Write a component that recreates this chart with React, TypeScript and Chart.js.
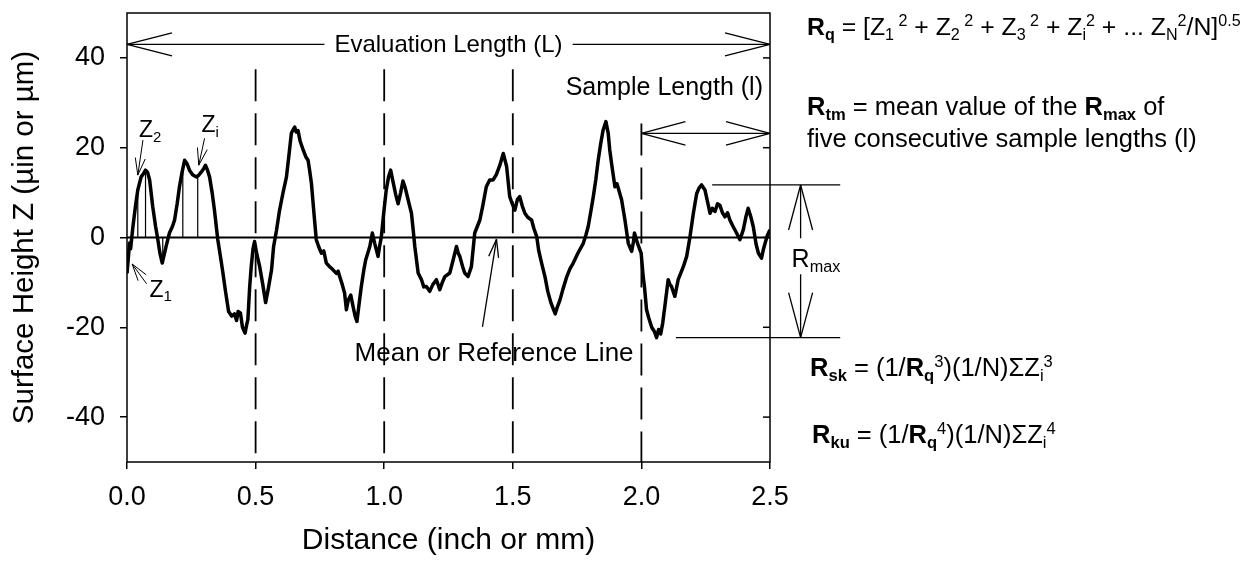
import React, { useEffect, useRef } from "react";
import { Chart, registerables } from "chart.js";

Chart.register(...registerables);

const FAMILY = '"Liberation Sans", Arial, Helvetica, sans-serif';

// Profile: distance along the surface (inch or mm) and surface height Z
const distance = [
  0.000, 0.006, 0.010, 0.014, 0.023, 0.033, 0.042, 0.055, 0.064, 0.072,
  0.080, 0.088, 0.100, 0.111, 0.120, 0.128, 0.137, 0.144, 0.152, 0.165,
  0.177, 0.185, 0.195, 0.204, 0.214, 0.224, 0.233, 0.243, 0.255, 0.269,
  0.278, 0.289, 0.298, 0.305, 0.313, 0.321, 0.331, 0.340, 0.353, 0.364,
  0.373, 0.383, 0.395, 0.407, 0.418, 0.426, 0.432, 0.441, 0.449, 0.459,
  0.465, 0.470, 0.477, 0.483, 0.490, 0.496, 0.504, 0.516, 0.528, 0.539,
  0.549, 0.562, 0.570, 0.581, 0.593, 0.606, 0.620, 0.629, 0.639, 0.646,
  0.652, 0.658, 0.665, 0.673, 0.685, 0.695, 0.704, 0.710, 0.717, 0.726,
  0.736, 0.745, 0.756, 0.765, 0.775, 0.788, 0.801, 0.814, 0.821, 0.827,
  0.837, 0.846, 0.853, 0.860, 0.870, 0.879, 0.887, 0.894, 0.903, 0.911,
  0.920, 0.928, 0.936, 0.944, 0.954, 0.963, 0.976, 0.982, 0.989, 0.998,
  1.008, 1.017, 1.025, 1.034, 1.045, 1.054, 1.064, 1.073, 1.082, 1.093,
  1.099, 1.106, 1.113, 1.119, 1.132, 1.145, 1.154, 1.164, 1.177, 1.189,
  1.203, 1.216, 1.226, 1.236, 1.255, 1.268, 1.281, 1.288, 1.294, 1.305,
  1.313, 1.326, 1.339, 1.352, 1.372, 1.383, 1.397, 1.410, 1.423, 1.436,
  1.449, 1.463, 1.476, 1.488, 1.498, 1.508, 1.518, 1.527, 1.537, 1.547,
  1.558, 1.573, 1.582, 1.593, 1.601, 1.612, 1.625, 1.636, 1.648, 1.658,
  1.665, 1.673, 1.683, 1.695, 1.710, 1.722, 1.735, 1.753, 1.774, 1.784,
  1.793, 1.804, 1.813, 1.823, 1.832, 1.842, 1.851, 1.862, 1.871, 1.877,
  1.884, 1.897, 1.905, 1.914, 1.923, 1.936, 1.949, 1.962, 1.969, 1.973,
  1.986, 1.999, 2.007, 2.012, 2.020, 2.029, 2.040, 2.051, 2.059, 2.067,
  2.075, 2.083, 2.091, 2.104, 2.111, 2.117, 2.130, 2.143, 2.163, 2.176,
  2.189, 2.202, 2.215, 2.224, 2.234, 2.247, 2.257, 2.267, 2.276, 2.286,
  2.296, 2.305, 2.315, 2.325, 2.335, 2.344, 2.356, 2.370, 2.383, 2.396,
  2.406, 2.415, 2.426, 2.435, 2.446, 2.455, 2.467, 2.475, 2.481, 2.490,
  2.500,
];
const height = [
  -8, -4, -1.2, -2.5, 2.4, 7, 10.6, 13.5, 14.2, 15.0,
  14.5, 12.8, 6.9, 2.5, -0.5, -3.5, -5.7, -4, -2, 1,
  2.5, 3.9, 7.5, 11.3, 14.5, 17.2, 16.5, 15, 14, 13.5,
  13.8, 14.6, 15.3, 16.1, 15, 13.5, 10, 6.1, -0.5, -4.5,
  -7.9, -12, -16.5, -17.5, -17, -18.5, -16.5, -16.8, -20, -21.3,
  -19.5, -18.3, -11, -6.5, -2.5, -0.9, -3.5, -6.5, -10.5, -14.5,
  -11.5, -7.2, -2, 1.5, 6, 9.8, 13.5, 18, 23.2, 24,
  24.6, 23.5, 23.8, 21.5, 19.5, 18, 17.2, 15, 12.1, 6,
  -0.5, -2, -3.5, -3, -5.7, -6.5, -7.2, -8, -7.5, -8.7,
  -10.5, -12.4, -16.1, -14, -12.8, -15.4, -17.5, -18.7, -14.5, -10.9,
  -7.5, -5, -3.5, -2, 1, -1.3, -4.2, -2, 0.2, 5.4,
  10.6, 13.5, 15, 12.5, 9.5, 7.5, 10, 12.6, 11, 8.4,
  7, 5.4, 1.5, -2, -7.9, -9.4, -11, -10.9, -12, -10.5,
  -9.4, -11.6, -10, -8.7, -7.9, -5, -2, -3.5, -4.2, -6.5,
  -7.9, -8.7, -6.5, 1, 3.9, 7, 11.3, 12.8, 12.8, 14,
  16, 18.7, 15.8, 9.1, 7.5, 6.1, 8.5, 9.1, 7, 5.4,
  4.5, 3.9, 2, 0.2, -3, -5.7, -8.7, -12, -14.5, -16,
  -17, -15.5, -14, -11.5, -8.7, -7, -5.7, -3.5, -1.3, 0.5,
  2.4, 6, 9.1, 13, 17.2, 21, 23.9, 25.8, 23.2, 19.5,
  16.5, 11.3, 12, 10.2, 8.4, 3.9, -1.3, -3.1, -1, 1,
  -1.5, -3.5, -8.7, -11, -16.1, -18, -20, -21, -22.3, -20.5,
  -21.5, -19, -15.4, -9.4, -10.5, -10.9, -13.1, -9.4, -6.5, -4.2,
  0.2, 5.4, 9.8, 11, 11.7, 10.6, 8, 5.4, 6.5, 5.8,
  7.5, 7.2, 5.5, 4.6, 5.5, 3.9, 2.5, 1, -0.5, 1.7,
  4.5, 6.5, 4.5, 2.4, -1.5, -3.5, -4.6, -2.5, -1.3, 0.5,
  1.7,
];

const xTickValues = [0, 0.5, 1.0, 1.5, 2.0, 2.5];
const yTickValues = [-40, -20, 0, 20, 40];

// Sample length boundaries (dashed lines) and their top ends
const sampleBounds = [0.5, 1.0, 1.5, 2.0];
const sampleBoundTop = [37.5, 37.5, 37.5, 25.4];

// Individual Z samples drawn as thin stems
const zSampleX = [0.042, 0.072, 0.139, 0.217, 0.275];
const zSampleZ = [11.5, 15.0, -4.0, 16.5, 13.6];

const evalArrowZ = 43;
const sampleArrowZ = 23.2;
const rMaxTop = 11.7;
const rMaxBottom = -22.3;

type Seg = { t: string; b?: boolean; sub?: boolean; sup?: boolean };

function seg(ctx: CanvasRenderingContext2D, x1: number, y1: number, x2: number, y2: number) {
  ctx.beginPath();
  ctx.moveTo(x1, y1);
  ctx.lineTo(x2, y2);
  ctx.stroke();
}

function head(ctx: CanvasRenderingContext2D, tx: number, ty: number, fx: number, fy: number, len: number, half: number) {
  const dx = fx - tx, dy = fy - ty;
  const L = Math.hypot(dx, dy) || 1;
  const ux = dx / L, uy = dy / L;
  const bx = tx + ux * len, by = ty + uy * len;
  seg(ctx, tx, ty, bx - uy * half, by + ux * half);
  seg(ctx, tx, ty, bx + uy * half, by - ux * half);
}

function rich(ctx: CanvasRenderingContext2D, x: number, y: number, segs: Seg[], size: number) {
  ctx.textBaseline = "alphabetic";
  ctx.textAlign = "left";
  for (const s of segs) {
    const small = s.sub || s.sup;
    const fs = small ? size * 0.65 : size;
    ctx.font = `${s.b ? "bold " : ""}${fs}px ${FAMILY}`;
    const dy = s.sub ? size * 0.2 : s.sup ? -size * 0.36 : 0;
    ctx.fillText(s.t, x, y + dy);
    x += ctx.measureText(s.t).width;
  }
  return x;
}

const annotPlugin = {
  id: "annot",
  afterDraw(chart: any) {
    const { ctx, chartArea: a, scales } = chart;
    const X = scales.x, Y = scales.y;
    const px = (v: number) => X.getPixelForValue(v);
    const py = (v: number) => Y.getPixelForValue(v);
    ctx.save();
    ctx.strokeStyle = "#000";
    ctx.fillStyle = "#000";
    ctx.lineCap = "butt";

    // frame
    ctx.lineWidth = 1.5;
    ctx.strokeRect(a.left, a.top, a.right - a.left, a.bottom - a.top);
    for (const v of yTickValues) {
      const yy = py(v);
      seg(ctx, a.right - 7, yy, a.right, yy);
    }

    ctx.lineWidth = 1.3;
    // Evaluation length arrow
    const ey = py(evalArrowZ);
    const cx = px(1.25);
    ctx.font = `24px ${FAMILY}`;
    const evalLabel = "Evaluation Length (L)";
    const w = ctx.measureText(evalLabel).width;
    seg(ctx, a.left, ey, cx - w / 2 - 10, ey);
    seg(ctx, cx + w / 2 + 10, ey, a.right, ey);
    head(ctx, a.left, ey, a.right, ey, 45, 11.5);
    head(ctx, a.right, ey, a.left, ey, 45, 11.5);
    ctx.textAlign = "center";
    ctx.textBaseline = "middle";
    ctx.fillText(evalLabel, cx, ey + 1);

    // Sample length arrow
    const sy = py(sampleArrowZ);
    const sx0 = px(2.0);
    seg(ctx, sx0, sy, a.right, sy);
    head(ctx, sx0, sy, a.right, sy, 44, 11.7);
    head(ctx, a.right, sy, sx0, sy, 44, 11.7);
    ctx.font = `25px ${FAMILY}`;
    ctx.textAlign = "right";
    ctx.textBaseline = "alphabetic";
    ctx.fillText("Sample Length (l)", a.right - 7, sy - 38);

    // Rmax
    const rt = py(rMaxTop), rb = py(rMaxBottom);
    seg(ctx, px(2.275), rt, px(2.773), rt);
    seg(ctx, px(2.134), rb, px(2.773), rb);
    const ax = px(2.619);
    const mid = (rt + rb) / 2;
    seg(ctx, ax, rt, ax, mid - 23);
    seg(ctx, ax, mid + 13, ax, rb);
    head(ctx, ax, rt, ax, rb, 45, 12);
    head(ctx, ax, rb, ax, rt, 45, 12);
    rich(ctx, ax - 9, mid + 6, [{ t: "R" }, { t: "max", sub: true }], 25);

    // Mean line arrow
    const mtx = px(1.4366), mty = py(-0.4);
    const mfx = px(1.382), mfy = py(-19.9);
    seg(ctx, mfx, mfy, mtx, mty);
    head(ctx, mtx, mty, mfx, mfy, 18, 5);
    ctx.font = `26px ${FAMILY}`;
    ctx.textAlign = "left";
    ctx.textBaseline = "alphabetic";
    ctx.fillText("Mean or Reference Line", px(0.885), py(-27.4));

    // Z arrows
    ctx.lineWidth = 1;
    const z2t = [px(0.042), py(13.9)], z2f = [px(0.062), py(21.7)];
    seg(ctx, z2f[0], z2f[1], z2t[0], z2t[1]);
    head(ctx, z2t[0], z2t[1], z2f[0], z2f[1], 17, 5);
    const zit = [px(0.279), py(16.1)], zif = [px(0.3016), py(22.1)];
    seg(ctx, zif[0], zif[1], zit[0], zit[1]);
    head(ctx, zit[0], zit[1], zif[0], zif[1], 17, 5);
    const z1t = [px(0.020), py(-5.9)], z1f = [px(0.076), py(-10.3)];
    seg(ctx, z1f[0], z1f[1], z1t[0], z1t[1]);
    head(ctx, z1t[0], z1t[1], z1f[0], z1f[1], 17, 5);
    rich(ctx, z2f[0] - 4, z2f[1] - 3, [{ t: "Z" }, { t: "2", sub: true }], 23);
    rich(ctx, zif[0] - 3, zif[1] - 6, [{ t: "Z" }, { t: "i", sub: true }], 23);
    rich(ctx, z1f[0] + 3, z1f[1] + 13, [{ t: "Z" }, { t: "1", sub: true }], 23);

    // Formulas on the right
    const fs = 25.5;
    const fx = 807;
    rich(ctx, fx, 35, [
      { t: "R", b: true }, { t: "q", b: true, sub: true }, { t: " = [Z" },
      { t: "1", sub: true }, { t: " 2", sup: true }, { t: " + Z" },
      { t: "2", sub: true }, { t: " 2", sup: true }, { t: " + Z" },
      { t: "3", sub: true }, { t: " 2", sup: true }, { t: " + Z" },
      { t: "i", sub: true }, { t: "2", sup: true }, { t: " + ... Z" },
      { t: "N", sub: true }, { t: "2", sup: true }, { t: "/N]" },
      { t: "0.5", sup: true },
    ], 24.8);
    rich(ctx, fx, 115, [
      { t: "R", b: true }, { t: "tm", b: true, sub: true },
      { t: " = mean value of the " },
      { t: "R", b: true }, { t: "max", b: true, sub: true }, { t: " of" },
    ], fs);
    rich(ctx, fx, 147, [{ t: "five consecutive sample lengths (l)" }], fs);
    rich(ctx, 810, 376, [
      { t: "R", b: true }, { t: "sk", b: true, sub: true }, { t: " = (1/" },
      { t: "R", b: true }, { t: "q", b: true, sub: true }, { t: "3", sup: true },
      { t: ")(1/N)\u03A3Z" }, { t: "i", sub: true }, { t: "3", sup: true },
    ], fs);
    rich(ctx, 812, 443, [
      { t: "R", b: true }, { t: "ku", b: true, sub: true }, { t: " = (1/" },
      { t: "R", b: true }, { t: "q", b: true, sub: true }, { t: "4", sup: true },
      { t: ")(1/N)\u03A3Z" }, { t: "i", sub: true }, { t: "4", sup: true },
    ], fs);

    ctx.restore();
  },
};

export default function App() {
  const ref = useRef<HTMLCanvasElement>(null);

  useEffect(() => {
    const canvas = ref.current;
    if (!canvas) return;
    const datasets: any[] = [
      {
        label: "profile",
        data: distance.map((d, i) => ({ x: d, y: height[i] })),
        borderColor: "#000",
        borderWidth: 3.5,
        pointRadius: 0,
        borderJoinStyle: "round",
      },
      {
        label: "mean",
        data: [{ x: 0, y: 0 }, { x: 2.5, y: 0 }],
        borderColor: "#000",
        borderWidth: 2,
        pointRadius: 0,
      },
      ...sampleBounds.map((b, i) => ({
        label: "bound" + i,
        data: [{ x: b, y: sampleBoundTop[i] }, { x: b, y: -50 }],
        borderColor: "#000",
        borderWidth: 1.8,
        borderDash: [32, 12],
        pointRadius: 0,
      })),
      ...zSampleX.map((zx, i) => ({
        label: "z" + i,
        data: [{ x: zx, y: 0 }, { x: zx, y: zSampleZ[i] }],
        borderColor: "#000",
        borderWidth: 1.2,
        pointRadius: 0,
      })),
    ];

    const chart = new Chart(canvas, {
      type: "line",
      data: { datasets },
      options: {
        responsive: false,
        animation: false,
        devicePixelRatio: 1,
        layout: { padding: { left: 0, top: 13, right: 477, bottom: 0 } },
        plugins: { legend: { display: false }, tooltip: { enabled: false } },
        elements: { line: { tension: 0 }, point: { radius: 0 } },
        scales: {
          x: {
            type: "linear",
            min: 0,
            max: 2.5,
            afterBuildTicks: (s: any) => {
              s.ticks = xTickValues.map((v) => ({ value: v }));
            },
            afterFit: (s: any) => {
              s.height = 107;
              s.paddingLeft = 0;
              s.paddingRight = 0;
            },
            border: { display: false },
            grid: { drawOnChartArea: false, drawTicks: true, tickLength: 7, color: "#000", lineWidth: 1.5 },
            ticks: {
              color: "#000",
              font: { family: FAMILY, size: 27 },
              padding: 12,
              maxRotation: 0,
              autoSkip: false,
              callback: (v: any) => Number(v).toFixed(1),
            },
            title: {
              display: true,
              text: "Distance (inch or mm)",
              color: "#000",
              font: { family: FAMILY, size: 30 },
              padding: { top: 0, bottom: 10 },
            },
          },
          y: {
            type: "linear",
            min: -50,
            max: 50,
            afterBuildTicks: (s: any) => {
              s.ticks = yTickValues.map((v) => ({ value: v }));
            },
            afterFit: (s: any) => {
              s.width = 127;
              s.paddingTop = 0;
              s.paddingBottom = 0;
            },
            border: { display: false },
            grid: { drawOnChartArea: false, drawTicks: true, tickLength: 7, color: "#000", lineWidth: 1.5 },
            ticks: {
              color: "#000",
              font: { family: FAMILY, size: 27 },
              padding: 15,
              autoSkip: false,
              callback: (v: any) => String(v),
            },
            title: {
              display: true,
              text: "Surface Height Z (\u00B5in or \u00B5m)",
              color: "#000",
              font: { family: FAMILY, size: 29.5 },
              padding: { top: 7, bottom: 0 },
            },
          },
        },
      } as any,
      plugins: [annotPlugin],
    });
    return () => chart.destroy();
  }, []);

  return (
    <div style={{ position: "fixed", left: 0, top: 0, width: 1247, height: 569, background: "#fff" }}>
      <canvas ref={ref} width={1247} height={569} style={{ width: 1247, height: 569, display: "block" }} />
    </div>
  );
}
